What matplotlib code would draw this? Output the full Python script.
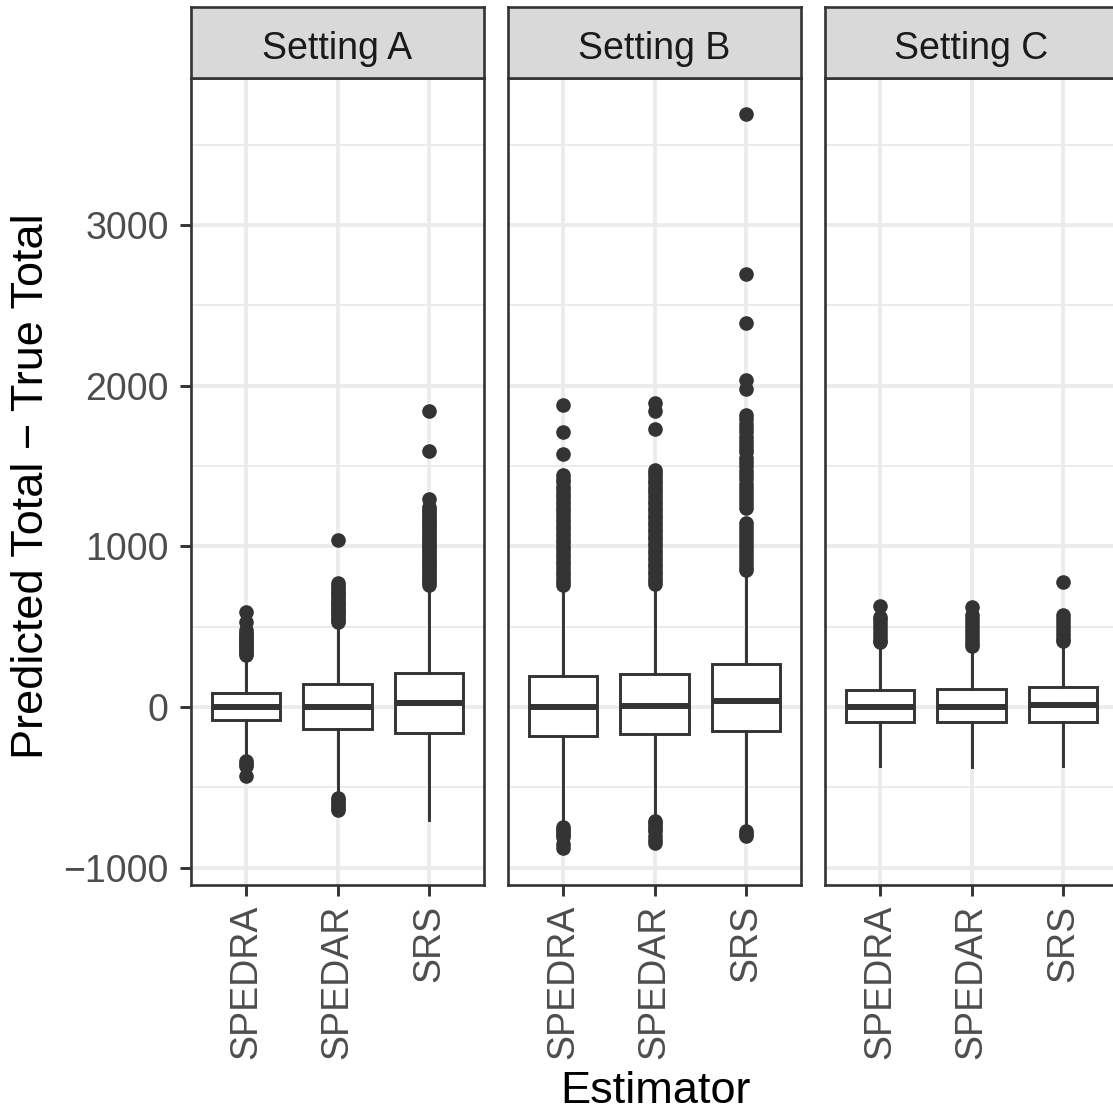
import matplotlib
matplotlib.use("Agg")
import matplotlib.pyplot as plt

plt.rcParams['font.family'] = ['Liberation Sans', 'DejaVu Sans']

# Data
settings = ["Setting A", "Setting B", "Setting C"]
estimators = ["SPEDRA", "SPEDAR", "SRS"]

y_ticks = [-1000, 0, 1000, 2000, 3000]
y_tick_labels = ["\u22121000", "0", "1000", "2000", "3000"]
y_minor = [-500, 500, 1500, 2500, 3500]

# box stats per setting: lists ordered like estimators
q1 = {"Setting A": [-81, -135, -164], "Setting B": [-180, -168, -149], "Setting C": [-95, -95, -91]}
med = {"Setting A": [0, 0, 23], "Setting B": [-2, 6, 37], "Setting C": [0, 2, 12]}
q3 = {"Setting A": [89, 141, 214], "Setting B": [193, 205, 266], "Setting C": [106, 110, 123]}
whis_lo = {"Setting A": [-309, -535, -703], "Setting B": [-722, -690, -740], "Setting C": [-365, -371, -365]}
whis_hi = {"Setting A": [313, 515, 749], "Setting B": [752, 752, 840], "Setting C": [396, 371, 406]}

out_A_spedra = [589, 531, 478, 462, 448, 435, 421, 408, 396, 383, 371, 359, 347, 336, 325,
                -338, -352, -366, -431]
out_A_spedar = [1039, 771, 752, 736, 718, 703, 688, 671, 655, 642, 627, 612, 598, 583, 570, 556, 541, 528,
                -567, -582, -598, -613, -628, -640]
out_A_srs = [1844, 1595, 1294, 1246, 1228, 1213, 1196, 1181, 1165, 1149, 1132, 1118, 1102, 1087, 1071,
             1056, 1040, 1024, 1009, 995, 979, 963, 948, 932, 917, 901, 886, 871, 855, 840, 824, 808,
             793, 778, 762]
out_B_spedra = [1879, 1713, 1572, 1444, 1421, 1398, 1372, 1350, 1328, 1306, 1283, 1262, 1240, 1218, 1196,
                1173, 1151, 1129, 1107, 1085, 1063, 1041, 1019, 997, 975, 953, 931, 909, 887, 865, 843,
                821, 799, 777, 760,
                -748, -766, -781, -797, -812, -851, -880]
out_B_spedar = [1894, 1844, 1728, 1475, 1456, 1437, 1415, 1394, 1372, 1350, 1329, 1307, 1285, 1263, 1241,
                1219, 1198, 1176, 1154, 1132, 1110, 1089, 1067, 1045, 1023, 1001, 979, 957, 935, 913,
                892, 870, 848, 826, 804, 782, 763,
                -708, -724, -741, -757, -774, -806, -828, -846]
out_B_srs = [3690, 2692, 2388, 2035, 1977, 1817, 1790, 1762, 1738, 1710, 1683, 1655, 1628, 1604, 1589,
             1548, 1522, 1497, 1470, 1443, 1418, 1391, 1366, 1339, 1313, 1288, 1262, 1236, 1143, 1118,
             1093, 1068, 1043, 1018, 994, 969, 944, 919, 894, 870, 853,
             -770, -788, -805]
out_C_spedra = [628, 562, 540, 515, 490, 465, 440, 415, 405]
out_C_spedar = [624, 572, 550, 525, 500, 475, 450, 425, 400, 382]
out_C_srs = [776, 572, 550, 525, 500, 475, 450, 425, 412]

outliers = {
    "Setting A": [out_A_spedra, out_A_spedar, out_A_srs],
    "Setting B": [out_B_spedra, out_B_spedar, out_B_srs],
    "Setting C": [out_C_spedra, out_C_spedar, out_C_srs],
}

DARK = "#333333"
GRID = "#EBEBEB"

W, H = 1113, 1112
fig = plt.figure(figsize=(W / 100, H / 100), dpi=100)
fig.patch.set_facecolor("white")

panel_left = [191, 508, 825]
panel_w = 293
panel_top, panel_bot = 78, 885
strip_top = 7

for i, setting in enumerate(settings):
    x0 = panel_left[i]
    ax = fig.add_axes([x0 / W, (H - panel_bot) / H, panel_w / W, (panel_bot - panel_top) / H])
    sax = fig.add_axes([x0 / W, (H - panel_top) / H, panel_w / W, (panel_top - strip_top) / H])

    # strip
    sax.set_xticks([])
    sax.set_yticks([])
    sax.set_facecolor("#D9D9D9")
    for sp in sax.spines.values():
        sp.set_color(DARK)
        sp.set_linewidth(1.9)
    sax.text(0.5, 0.47, setting, ha="center", va="center_baseline", fontsize=27,
             color="#1A1A1A", transform=sax.transAxes)

    stats = []
    for j, est in enumerate(estimators):
        stats.append(dict(label=est, q1=q1[setting][j], med=med[setting][j], q3=q3[setting][j],
                          whislo=whis_lo[setting][j], whishi=whis_hi[setting][j],
                          fliers=outliers[setting][j]))

    ax.bxp(stats, positions=[1, 2, 3], widths=0.75, showcaps=False, patch_artist=True,
           boxprops=dict(facecolor="white", edgecolor=DARK, linewidth=2.1),
           whiskerprops=dict(color=DARK, linewidth=2.1),
           medianprops=dict(color=DARK, linewidth=4.3, solid_capstyle="butt"),
           flierprops=dict(marker="o", markersize=9.5, markerfacecolor=DARK,
                           markeredgecolor=DARK, linestyle="none"),
           zorder=3)

    ax.set_xlim(0.4, 3.6)
    ax.set_ylim(-1108, 3915)

    # grid
    for v in y_minor:
        ax.axhline(v, color=GRID, linewidth=1.4, zorder=0)
    for v in y_ticks:
        ax.axhline(v, color=GRID, linewidth=2.7, zorder=0)
    for p in [1, 2, 3]:
        ax.axvline(p, color=GRID, linewidth=2.7, zorder=0)

    ax.set_xticks([1, 2, 3])
    ax.set_xticklabels(estimators, rotation=90, fontsize=27, color="#4D4D4D")
    ax.tick_params(axis="x", length=8, width=2.1, color=DARK, pad=6)
    if i == 0:
        ax.set_yticks(y_ticks)
        ax.set_yticklabels(y_tick_labels, fontsize=27, color="#4D4D4D")
        ax.tick_params(axis="y", length=8, width=2.1, color=DARK, pad=8)
    else:
        ax.set_yticks([])
    for sp in ax.spines.values():
        sp.set_color(DARK)
        sp.set_linewidth(1.9)
        sp.set_zorder(5)

fig.text(655 / W, 1 - 1103 / H, "Estimator", ha="center", va="baseline", fontsize=32.5, color="black")
fig.text(32 / W, 1 - 486 / H, "Predicted Total \u2212 True Total", ha="center", va="center",
         rotation=90, fontsize=32.5, color="black")

fig.savefig("out.png", dpi=100)
